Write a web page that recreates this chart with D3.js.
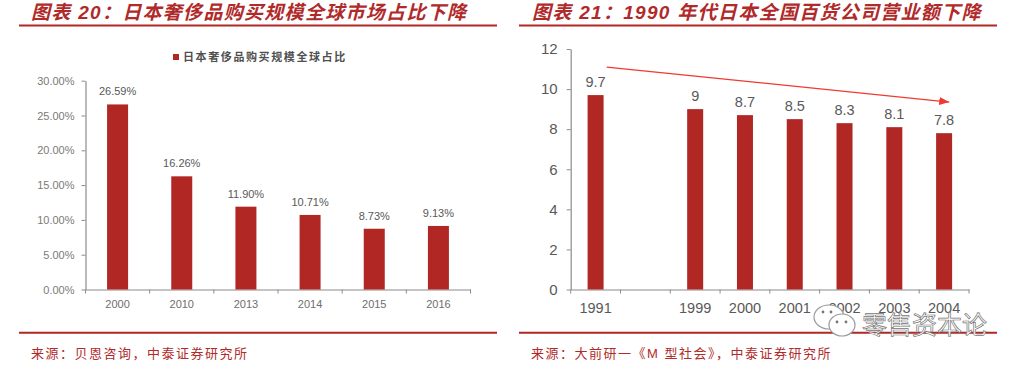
<!DOCTYPE html>
<html>
<head>
<meta charset="utf-8">
<script src="https://cdn.jsdelivr.net/npm/d3@7"></script>
<style>
  html, body { margin: 0; padding: 0; background: #fff; }
  text { font-family: "Liberation Sans", "Noto Sans CJK SC", sans-serif; }
</style>
</head>
<body>
<div id="chart"></div>
<script>
// Left chart data
const shareYears = ["2000", "2010", "2013", "2014", "2015", "2016"];
const shareValues = [26.59, 16.26, 11.90, 10.71, 8.73, 9.13];
const shareTicks = [0, 5, 10, 15, 20, 25, 30];

// Right chart data
const salesYears = ["1991", "", "1999", "2000", "2001", "2002", "2003", "2004"];
const salesValues = [9.7, null, 9, 8.7, 8.5, 8.3, 8.1, 7.8];
const salesTicks = [0, 2, 4, 6, 8, 10, 12];

const red = "#b02724";
const titleRed = "#b02a2a";
const axisGray = "#8c8c8c";
const labelGray = "#595959";

const width = 1019;
const height = 368;

const svg = d3.select("#chart")
  .append("svg")
    .attr("width", width)
    .attr("height", height)
    .style("display", "block");

/*******************************/
/*    Titles, rules, sources   */
/*******************************/
// Full-width colon and comma written as escapes
const colon = "\uFF1A";
const comma = "\uFF0C";

const panels = [
  {x1: 19, x2: 497, titleX: 31, sourceX: 31,
   title: `图表 20${colon}日本奢侈品购买规模全球市场占比下降`,
   source: `来源${colon}贝恩咨询${comma}中泰证券研究所`},
  {x1: 519, x2: 997, titleX: 532, sourceX: 531,
   title: `图表 21${colon}1990 年代日本全国百货公司营业额下降`,
   source: `来源${colon}大前研一《M 型社会》${comma}中泰证券研究所`}
];

panels.forEach(p => {
  svg.append("text")
    .text(p.title)
    .attr("x", p.titleX)
    .attr("y", 19)
    .attr("fill", titleRed)
    .attr("font-size", 19)
    .attr("font-weight", 700)
    .attr("font-style", "italic")
    .attr("letter-spacing", 1.3);
  svg.append("text")
    .text(p.source)
    .attr("x", p.sourceX)
    .attr("y", 358)
    .attr("fill", titleRed)
    .attr("font-size", 13)
    .attr("letter-spacing", 1.5);
  [25.5, 332.7].forEach(y => {
    svg.append("line")
      .attr("x1", p.x1)
      .attr("x2", p.x2)
      .attr("y1", y)
      .attr("y2", y)
      .attr("stroke", red)
      .attr("stroke-width", 2);
  });
});

/****************************/
/*    Shared chart helper   */
/****************************/
const drawBars = (cfg) => {
  const xScale = d3.scaleBand()
    .domain(cfg.categories.map((d, i) => i))
    .range(cfg.xRange);
  const yScale = d3.scaleLinear()
    .domain(cfg.yDomain)
    .range(cfg.yRange);

  const bottomAxis = d3.axisBottom(xScale)
    .tickFormat(i => cfg.categories[i])
    .tickSize(0)
    .tickPadding(cfg.xPadding);
  const xAxis = svg.append("g")
    .attr("transform", `translate(0, ${cfg.yRange[0]})`)
    .call(bottomAxis);
  xAxis.select(".domain").attr("stroke", axisGray).attr("stroke-width", 1.2);
  xAxis.selectAll("text")
    .attr("fill", cfg.xColor)
    .attr("font-size", cfg.xSize);

  // Ticks sit between the categories
  xAxis.selectAll(".boundary")
    .data(d3.range(cfg.categories.length + 1))
    .join("line")
      .attr("class", "boundary")
      .attr("x1", i => cfg.xRange[0] + i * xScale.step())
      .attr("x2", i => cfg.xRange[0] + i * xScale.step())
      .attr("y1", 0)
      .attr("y2", 4)
      .attr("stroke", axisGray);

  const leftAxis = d3.axisLeft(yScale)
    .tickValues(cfg.yTicks)
    .tickFormat(cfg.yFormat)
    .tickSize(4)
    .tickSizeOuter(0)
    .tickPadding(cfg.yPadding);
  const yAxis = svg.append("g")
    .attr("transform", `translate(${cfg.xRange[0]}, 0)`)
    .call(leftAxis);
  yAxis.select(".domain").attr("stroke", axisGray).attr("stroke-width", 1.2);
  yAxis.selectAll("line").attr("stroke", axisGray);
  yAxis.selectAll("text")
    .attr("fill", cfg.yColor)
    .attr("font-size", cfg.ySize);

  const rows = cfg.values
    .map((v, i) => ({v, i}))
    .filter(d => d.v !== null);

  svg.append("g")
    .selectAll("rect")
    .data(rows)
    .join("rect")
      .attr("x", d => xScale(d.i) + xScale.step() / 2 - cfg.barWidth / 2)
      .attr("y", d => yScale(d.v))
      .attr("width", cfg.barWidth)
      .attr("height", d => yScale(0) - yScale(d.v))
      .attr("fill", red);

  svg.append("g")
    .selectAll("text")
    .data(rows)
    .join("text")
      .text(d => cfg.labelFormat(d.v))
      .attr("x", d => xScale(d.i) + xScale.step() / 2)
      .attr("y", d => yScale(d.v) - cfg.labelGap)
      .attr("text-anchor", "middle")
      .attr("fill", labelGray)
      .attr("font-size", cfg.labelSize);

  return {xScale, yScale};
};

/****************************/
/*    Left chart            */
/****************************/
drawBars({
  categories: shareYears,
  values: shareValues,
  xRange: [85.5, 470.5],
  yRange: [289.5, 80.7],
  yDomain: [0, 30],
  yTicks: shareTicks,
  yFormat: d => d3.format(".2f")(d) + "%",
  labelFormat: d => d.toFixed(2) + "%",
  barWidth: 21,
  labelGap: 9,
  labelSize: 11,
  xSize: 11,
  xColor: "#6e6e6e",
  xPadding: 11,
  ySize: 11,
  yColor: "#7a7a7a",
  yPadding: 7
});

// Legend
svg.append("rect")
  .attr("x", 173)
  .attr("y", 54)
  .attr("width", 6)
  .attr("height", 6)
  .attr("fill", red);
svg.append("text")
  .text("日本奢侈品购买规模全球占比")
  .attr("x", 183)
  .attr("y", 61)
  .attr("fill", "#505050")
  .attr("font-size", 11)
  .attr("font-weight", 700)
  .attr("letter-spacing", 1.6);

/****************************/
/*    Right chart           */
/****************************/
const right = drawBars({
  categories: salesYears,
  values: salesValues,
  xRange: [570.7, 969],
  yRange: [289.5, 49],
  yDomain: [0, 12],
  yTicks: salesTicks,
  yFormat: d => d,
  labelFormat: d => d,
  barWidth: 16,
  labelGap: 8,
  labelSize: 14.5,
  xSize: 14.5,
  xColor: "#595959",
  xPadding: 13,
  ySize: 15,
  yColor: "#595959",
  yPadding: 9
});

// Trend arrow, from above the first bar down to the last one
const defs = svg.append("defs");
defs.append("marker")
    .attr("id", "arrow")
    .attr("viewBox", "0 0 10 8")
    .attr("refX", 10)
    .attr("refY", 4)
    .attr("markerUnits", "userSpaceOnUse")
    .attr("markerWidth", 10)
    .attr("markerHeight", 8)
    .attr("orient", "auto")
  .append("path")
    .attr("d", "M0,0L10,4L0,8Z")
    .attr("fill", "#ee3a32");

svg.append("line")
  .attr("x1", right.xScale(0) + 36)
  .attr("y1", right.yScale(11.1))
  .attr("x2", right.xScale(7) + 30)
  .attr("y2", right.yScale(9.35))
  .attr("stroke", "#ee3a32")
  .attr("stroke-width", 1.2)
  .attr("marker-end", "url(#arrow)");

/****************************/
/*    Watermark             */
/****************************/
const mark = svg.append("g")
  .attr("transform", "translate(835, 322)");
mark.append("ellipse")
  .attr("cx", -6).attr("cy", -5).attr("rx", 15).attr("ry", 12)
  .attr("fill", "#fff").attr("stroke", "#9a9a9a").attr("stroke-width", 1.2);
mark.append("ellipse")
  .attr("cx", 7).attr("cy", 3).attr("rx", 13).attr("ry", 11)
  .attr("fill", "#fff").attr("stroke", "#9a9a9a").attr("stroke-width", 1.2);
mark.selectAll(".eye")
  .data([[2, 0], [11, 0], [-12, -10], [-4, -10]])
  .join("circle")
    .attr("class", "eye")
    .attr("cx", d => d[0])
    .attr("cy", d => d[1])
    .attr("r", 1.4)
    .attr("fill", "#777");
svg.append("text")
  .text("零售资本论")
  .attr("x", 862)
  .attr("y", 334)
  .attr("fill", "#fff")
  .attr("stroke", "#777")
  .attr("stroke-width", 0.7)
  .attr("font-size", 25);
</script>
</body>
</html>
